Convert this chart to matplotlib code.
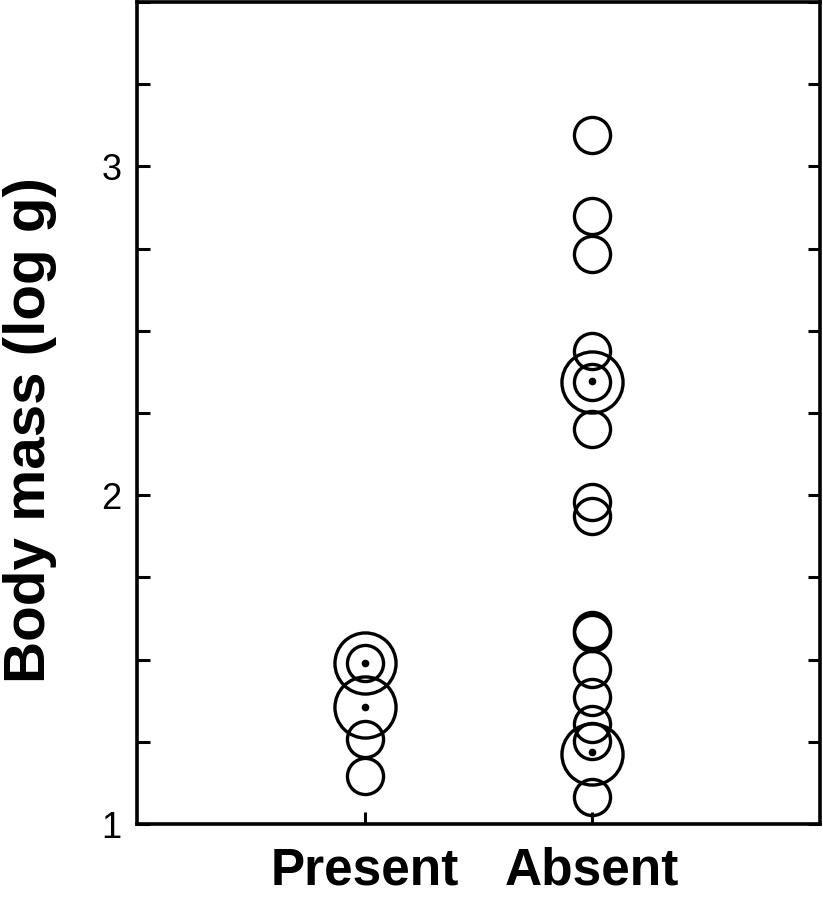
import matplotlib
matplotlib.use("Agg")
import matplotlib.pyplot as plt
from matplotlib.ticker import MultipleLocator

categories = ["Present", "Absent"]
present_small = [1.49, 1.26, 1.147]
present_big = [1.49, 1.355]
present_dots = [1.49, 1.355]
absent_small = [3.094, 2.849, 2.735, 2.439, 2.344, 2.202, 1.98, 1.937,
                1.59, 1.58, 1.471, 1.386, 1.304, 1.253, 1.082]
absent_big = [2.343, 1.213]
absent_dots = [2.347, 1.22]
y_ticks = [1, 2, 3]

fig = plt.figure(figsize=(8.23, 8.99), dpi=100)
ax = fig.add_axes([137/823, 1 - 824/899, (820-137)/823, (824-2)/899])

groups = [(1, present_small, present_big, present_dots),
          (2, absent_small, absent_big, absent_dots)]
for xpos, small, big, dots in groups:
    ax.plot([xpos]*len(small), small, ls="none", marker="o", ms=26,
            mfc="none", mec="black", mew=2.4, clip_on=False)
    ax.plot([xpos]*len(big), big, ls="none", marker="o", ms=44,
            mfc="none", mec="black", mew=2.4, clip_on=False)
    ax.plot([xpos]*len(dots), dots, ls="none", marker="o", ms=4.5,
            mfc="black", mec="black", clip_on=False)

ax.set_xlim(0, 3)
ax.set_ylim(1, 3.5)
ax.set_yticks(y_ticks)
ax.set_yticklabels([str(t) for t in y_ticks], fontsize=26, family="Liberation Sans")
ax.yaxis.set_minor_locator(MultipleLocator(0.25))
ax.tick_params(axis="y", which="both", direction="in", length=9, width=2.2,
               left=True, right=True, pad=11)
ax.set_xticks([1, 2])
ax.set_xticklabels(categories, fontsize=37, fontweight="bold", family="Liberation Sans")
ax.tick_params(axis="x", direction="in", length=9, width=2.2, top=False, pad=16)
for s in ax.spines.values():
    s.set_linewidth(2.6)

ax.set_ylabel("Body mass (log g)", fontsize=42, fontweight="bold",
              family="Liberation Sans", labelpad=32)
ax.yaxis.label.set_y(0.479)

fig.savefig("out.png", dpi=100)
